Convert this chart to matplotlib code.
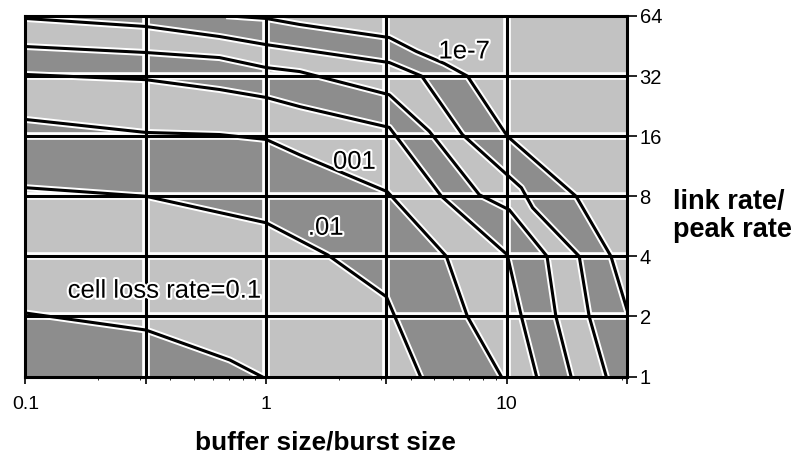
import matplotlib
matplotlib.use("Agg")
import matplotlib.pyplot as plt
import matplotlib.patheffects as pe
from matplotlib.ticker import NullLocator

plt.rcParams['font.family'] = ['Liberation Sans', 'DejaVu Sans']

# axis ranges: buffer size/burst size and link rate/peak rate
x_lim = [0.1, 31.6]
y_lim = [1, 64]
x_ticks = [0.1, 0.316, 1, 3.16, 10, 31.6]
x_tick_labels = ['0.1', '', '1', '', '10', '']
y_ticks = [1, 2, 4, 8, 16, 32, 64]
y_tick_labels = ['1', '2', '4', '8', '16', '32', '64']

# contour lines of equal cell loss rate
loss_1e1_x = [0.1, 0.316, 0.706, 0.958]
loss_1e1_y = [2.08, 1.71, 1.21, 1.0]

loss_1e2_x = [0.1, 0.316, 0.706, 1.0, 1.80, 3.16, 4.38]
loss_1e2_y = [8.83, 8.0, 6.46, 5.89, 4.07, 2.51, 1.0]

loss_1e3_x = [0.1, 0.316, 0.641, 1.0, 1.38, 3.19, 5.61, 6.86, 9.49]
loss_1e3_y = [19.4, 16.7, 16.3, 15.4, 12.9, 8.43, 4.0, 2.0, 1.0]

loss_1e4_x = [0.1, 0.316, 0.641, 1.0, 1.38, 3.25, 5.35, 10.05, 11.5, 13.3]
loss_1e4_y = [32.6, 30.7, 27.4, 25.0, 22.5, 17.7, 8.0, 4.07, 2.0, 1.0]

loss_1e5_x = [0.1, 0.316, 0.641, 1.0, 1.38, 3.25, 4.77, 7.69, 10.24, 14.7, 16.0, 18.5]
loss_1e5_y = [45.0, 42.0, 39.6, 35.3, 33.7, 25.8, 16.9, 8.14, 6.84, 4.0, 2.0, 1.0]

loss_1e6_x = [0.1, 0.316, 0.641, 1.0, 1.38, 3.25, 4.43, 6.54, 11.5, 12.8, 20.0, 22.0, 25.9]
loss_1e6_y = [62.2, 56.7, 50.5, 46.0, 43.5, 37.4, 32.0, 16.3, 8.83, 7.0, 4.0, 2.0, 1.0]

loss_1e7_x = [0.706, 1.0, 1.38, 3.25, 4.21, 5.50, 6.86, 10.05, 19.4, 27.1, 31.6]
loss_1e7_y = [64, 62.2, 58.0, 49.9, 42.5, 37.0, 32.0, 16.0, 8.0, 4.0, 2.16]

lines = [(loss_1e1_x, loss_1e1_y), (loss_1e2_x, loss_1e2_y), (loss_1e3_x, loss_1e3_y),
         (loss_1e4_x, loss_1e4_y), (loss_1e5_x, loss_1e5_y), (loss_1e6_x, loss_1e6_y),
         (loss_1e7_x, loss_1e7_y)]

# text labels (text, x, y)
labels = [('cell loss rate=0.1', 0.379, 2.69), ('.01', 1.77, 5.56),
          ('001', 2.33, 11.9), ('1e-7', 6.66, 42.5)]

dark = '#8d8d8d'
light = '#c2c2c2'


def region_above(xs, ys):
    # polygon of everything above/right of a contour line
    px, py = list(xs), list(ys)
    if py[-1] <= y_lim[0]:
        px.append(x_lim[1]); py.append(y_lim[0])
    px.append(x_lim[1]); py.append(y_lim[1])
    if px[0] <= x_lim[0]:
        px.append(x_lim[0]); py.append(y_lim[1])
    return px, py


fig = plt.figure(figsize=(7.91, 4.54), dpi=100)
ax = fig.add_axes([0.0322, 0.1707, 0.7605, 0.7941])
ax.set_xscale('log')
ax.set_yscale('log', base=2)
ax.set_xlim(x_lim)
ax.set_ylim(y_lim)
ax.set_facecolor(dark)

for i, (xs, ys) in enumerate(lines):
    px, py = region_above(xs, ys)
    ax.fill(px, py, color=light if i % 2 == 0 else dark, lw=0, zorder=1)

# grid with white margins
for gx in x_ticks[1:-1]:
    ax.axvline(gx, color='white', lw=5.5, zorder=2)
    ax.axvline(gx, color='black', lw=2.2, zorder=4)
for gy in y_ticks[1:-1]:
    ax.axhline(gy, color='white', lw=5.5, zorder=2)
    ax.axhline(gy, color='black', lw=2.2, zorder=4)

for xs, ys in lines:
    ax.plot(xs, ys, color='white', lw=5, zorder=3)
    ax.plot(xs, ys, color='black', lw=2.2, zorder=5)

halo = [pe.withStroke(linewidth=3, foreground='white')]
for txt, tx, ty in labels:
    ax.text(tx, ty, txt, fontsize=18.5, ha='center', va='center', zorder=6, path_effects=halo)

for s in ax.spines.values():
    s.set_linewidth(2.2)
    s.set_zorder(7)

ax.set_xticks(x_ticks)
ax.set_xticklabels(x_tick_labels, fontsize=14)
ax.tick_params(axis='x', direction='out', length=5, width=1.2, pad=9)
ax.tick_params(axis='x', which='minor', length=2, width=0.6)
ax.yaxis.tick_right()
ax.set_yticks(y_ticks)
ax.set_yticklabels(y_tick_labels, fontsize=14.5)
ax.yaxis.set_minor_locator(NullLocator())
ax.tick_params(axis='y', direction='out', length=7, width=1.2, pad=2)

fig.text(0.412, 0.025, 'buffer size/burst size', fontsize=18.8, fontweight='bold',
         ha='center', va='center')
fig.text(0.851, 0.524, 'link rate/\npeak rate', fontsize=19.5, fontweight='bold',
         ha='left', va='center', linespacing=1.1)

fig.savefig('out.png', dpi=100)
